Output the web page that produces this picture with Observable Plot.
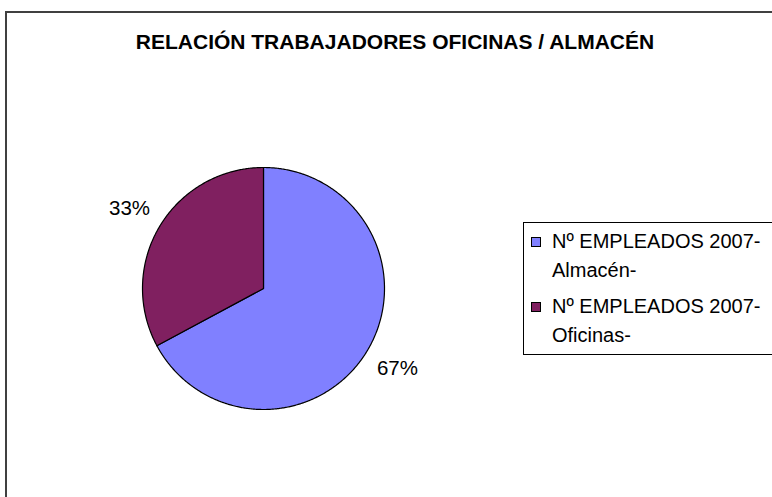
<!DOCTYPE html>
<html><head><meta charset="utf-8">
<script src="https://cdn.jsdelivr.net/npm/d3@7"></script>
<script src="https://cdn.jsdelivr.net/npm/@observablehq/plot@0.6"></script>
<style>
html,body{margin:0;padding:0;background:#fff;}
body{width:772px;height:497px;overflow:hidden;position:relative;font-family:"Liberation Sans",Arial,sans-serif;color:#000;}
#chart{position:absolute;left:0;top:0;}
#frame{position:absolute;left:5px;top:11px;width:820px;height:540px;border:2px solid #404040;box-sizing:border-box;pointer-events:none;}
#title{position:absolute;left:0;top:31px;width:790px;text-align:center;font-weight:bold;font-size:21px;line-height:21px;white-space:nowrap;}
#legend{position:absolute;left:523px;top:222px;width:270px;height:133px;border:1px solid #000;box-sizing:border-box;}
.item{position:absolute;left:28px;font-size:20px;line-height:29px;white-space:nowrap;}
.sw{position:absolute;width:10px;height:10px;border:1px solid #000;box-sizing:border-box;left:7px;}
</style>
</head><body>
<div id="chart"></div>
<div id="title"></div>
<div id="legend"></div>
<div id="frame"></div>
<script>
const title = "RELACIÓN TRABAJADORES OFICINAS / ALMACÉN";
const categories = ["Nº EMPLEADOS 2007-Almacén-", "Nº EMPLEADOS 2007-Oficinas-"];
const legendLines = [["Nº EMPLEADOS 2007-", "Almacén-"], ["Nº EMPLEADOS 2007-", "Oficinas-"]];
const values = [45, 22];
const colors = ["#8080FF", "#802060"];

document.getElementById("title").textContent = title;

const total = d3.sum(values);
const slices = [];
let acc = 0;
values.forEach((v, i) => {
  const a0 = acc / total * 2 * Math.PI;
  acc += v;
  const a1 = acc / total * 2 * Math.PI;
  slices.push({name: categories[i], value: v, a0, a1, pct: Math.round(v / total * 100) + "%"});
});

const points = [];
for (const s of slices) {
  points.push({name: s.name, x: 0, y: 0});
  const n = Math.max(2, Math.ceil((s.a1 - s.a0) / (Math.PI / 360)));
  for (let k = 0; k <= n; k++) {
    const a = s.a0 + (s.a1 - s.a0) * k / n;
    points.push({name: s.name, x: Math.sin(a), y: Math.cos(a)});
  }
}

const labels = slices.map(s => {
  const m = (s.a0 + s.a1) / 2;
  return {text: s.pct, x: 1.29 * Math.sin(m), y: 1.29 * Math.cos(m)};
});

const plot = Plot.plot({
  width: 772,
  height: 497,
  margin: 0,
  style: {background: "transparent", fontFamily: "Liberation Sans, Arial, sans-serif"},
  x: {domain: [-1, 1], range: [142, 384], axis: null},
  y: {domain: [-1, 1], range: [409, 167], axis: null},
  color: {domain: categories, range: colors},
  marks: [
    Plot.line(points, {x: "x", y: "y", z: "name", fill: "name", stroke: "#000", strokeWidth: 1.2, strokeLinejoin: "round", curve: "linear-closed"}),
    Plot.text(labels, {x: "x", y: "y", text: "text", fontSize: 20.5, fill: "#000", textAnchor: "middle", lineAnchor: "middle"})
  ]
});
document.getElementById("chart").appendChild(plot);

const legend = document.getElementById("legend");
const tops = [4, 69];
categories.forEach((c, i) => {
  const it = document.createElement("div");
  it.className = "item";
  it.style.top = tops[i] + "px";
  it.innerHTML = legendLines[i].join("<br>");
  legend.appendChild(it);
  const sw = document.createElement("div");
  sw.className = "sw";
  sw.style.top = (tops[i] + 10) + "px";
  sw.style.background = colors[i];
  legend.appendChild(sw);
});
</script>
</body></html>
